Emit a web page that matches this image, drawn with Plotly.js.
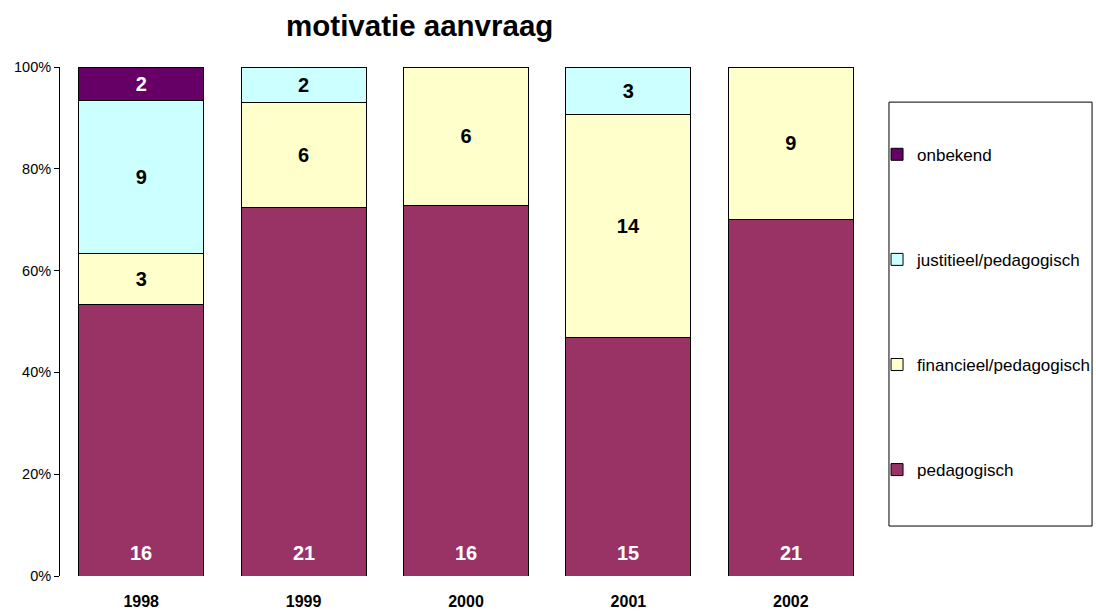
<!DOCTYPE html>
<html>
<head>
<meta charset="utf-8">
<script src="https://cdn.plot.ly/plotly-3.0.1.min.js"></script>
<style>html,body{margin:0;padding:0;background:#fff;}#chart{width:1096px;height:611px;}</style>
</head>
<body>
<div id="chart"></div>
<script>
const years = ['1998', '1999', '2000', '2001', '2002'];
const pedagogisch = [16, 21, 16, 15, 21];
const financieel = [3, 6, 6, 14, 9];
const justitieel = [9, 2, 0, 3, 0];
const onbekend = [2, 0, 0, 0, 0];

const yTickVals = [0, 20, 40, 60, 80, 100];
const yTickText = ['0%', '20%', '40%', '60%', '80%', '100%'];

const seriesNames = ['pedagogisch', 'financieel/pedagogisch', 'justitieel/pedagogisch', 'onbekend'];
const seriesValues = [pedagogisch, financieel, justitieel, onbekend];
const seriesColors = ['#993366', '#FFFFCC', '#CCFFFF', '#660066'];
const textColors = ['#ffffff', '#000000', '#000000', '#ffffff'];

const font = 'Liberation Sans, Arial, sans-serif';
const labelSize = 20;

const traces = seriesNames.map((name, i) => ({
  type: 'bar',
  name: name,
  x: years,
  y: seriesValues[i],
  text: seriesValues[i].map(v => v > 0 ? String(v) : ''),
  textposition: i === 0 ? 'none' : 'inside',
  insidetextanchor: 'middle',
  constraintext: 'none',
  textfont: {family: font, size: labelSize, color: textColors[i], weight: 'bold'},
  marker: {color: seriesColors[i], line: {color: '#000000', width: 1}},
  legendgroup: 'g' + i,
  legendrank: 10 - i,
  hoverinfo: 'skip'
}));

// bottom-segment labels sit near the base of each bar (x given as category index)
const annotations = years.map((yr, j) => ({
  x: j, y: 0, xref: 'x', yref: 'y',
  yanchor: 'bottom', yshift: 10,
  text: String(pedagogisch[j]),
  showarrow: false,
  font: {family: font, size: labelSize, color: '#ffffff', weight: 'bold'}
}));

const layout = {
  width: 1096,
  height: 611,
  margin: {l: 60, r: 224, t: 67, b: 35, autoexpand: false},
  paper_bgcolor: '#ffffff',
  plot_bgcolor: '#ffffff',
  barmode: 'stack',
  barnorm: 'percent',
  bargap: 0.23,
  font: {family: font, color: '#000000'},
  title: {
    text: '<b>motivatie aanvraag</b>',
    font: {family: font, size: 29.5, color: '#000000'},
    x: 0.443, xref: 'paper', xanchor: 'center',
    y: 0.958, yref: 'container', yanchor: 'middle'
  },
  xaxis: {
    type: 'category',
    showline: false,
    showgrid: false,
    zeroline: false,
    ticks: '',
    tickfont: {family: font, size: 16, color: '#000000', weight: 'bold'},
    ticklabelstandoff: 14
  },
  yaxis: {
    range: [0, 100],
    tickmode: 'array',
    tickvals: yTickVals,
    ticktext: yTickText,
    showline: true,
    linecolor: '#000000',
    linewidth: 1,
    ticks: 'outside',
    ticklen: 5,
    tickcolor: '#000000',
    showgrid: false,
    zeroline: false,
    tickfont: {family: font, size: 14.5, color: '#000000'}
  },
  showlegend: true,
  legend: {
    x: 1.0062, xanchor: 'left',
    y: 0.863, yanchor: 'top',
    traceorder: 'grouped',
    tracegroupgap: 80,
    font: {family: font, size: 17, color: '#000000'},
    bgcolor: 'rgba(0,0,0,0)',
    borderwidth: 0
  },
  annotations: annotations,
  shapes: [{
    type: 'rect', xref: 'paper', yref: 'paper',
    x0: 1.0209, x1: 1.271, y0: 0.0982, y1: 0.931,
    line: {color: '#000000', width: 1}, fillcolor: 'rgba(0,0,0,0)', layer: 'below'
  }]
};

Plotly.newPlot('chart', traces, layout, {displayModeBar: false, staticPlot: true});
</script>
</body>
</html>
